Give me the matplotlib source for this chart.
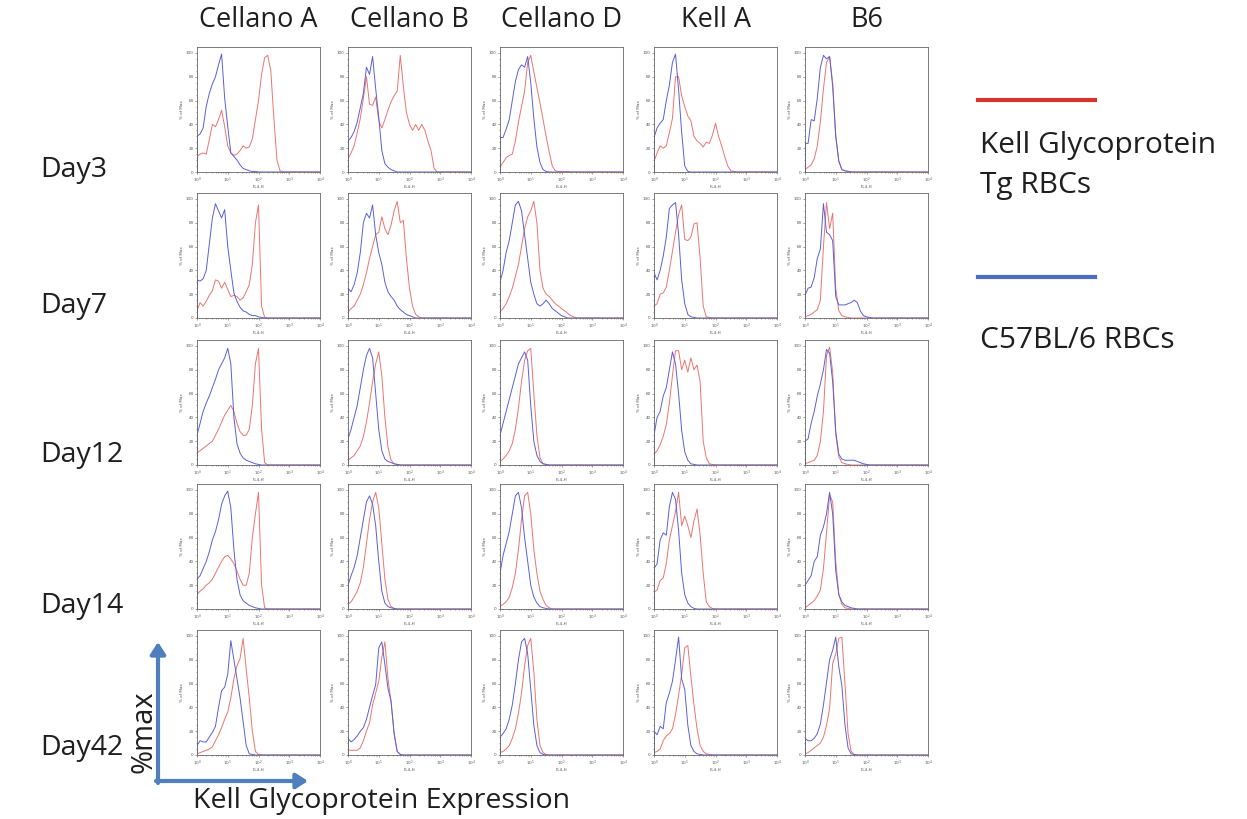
import numpy as np
import matplotlib
matplotlib.use('Agg')
import matplotlib.pyplot as plt
from matplotlib.ticker import FixedLocator, NullFormatter

strains = ['Cellano A', 'Cellano B', 'Cellano D', 'Kell A', 'B6']
days = ['Day3', 'Day7', 'Day12', 'Day14', 'Day42']

# log10(FL4-H) bin centres, 0.1 decade apart
log_fl = np.arange(0, 4.01, 0.1)

# % of max per bin, one list per day (Day3, Day7, Day12, Day14, Day42)
tg_cellano_a = [
    [13, 15, 16, 15, 27, 40, 38, 44, 52, 38, 22, 16, 14, 15, 18, 22, 20, 21, 28, 44, 60, 82, 96, 98, 85, 45, 10, 1],
    [6, 13, 10, 14, 19, 23, 32, 31, 25, 30, 24, 18, 19, 18, 15, 17, 22, 28, 45, 80, 95, 10, 0.5],
    [10, 12, 14, 16, 18, 20, 25, 30, 36, 42, 46, 50, 45, 35, 28, 25, 25, 30, 50, 85, 98, 30, 2],
    [12, 15, 17, 20, 22, 25, 30, 35, 40, 44, 45, 42, 38, 32, 25, 20, 20, 30, 60, 80, 98, 20, 1],
    [1, 2, 3, 4, 5, 7, 12, 17, 23, 30, 36, 48, 64, 75, 81, 98, 72, 48, 20, 3, 0.5],
]
b6_cellano_a = [
    [30, 32, 37, 55, 66, 74, 80, 90, 99, 62, 38, 16, 13, 10, 6, 3, 2, 1, 0.5, 0.5],
    [32, 31, 33, 40, 62, 84, 96, 90, 84, 91, 60, 40, 21, 14, 9, 6, 5, 3, 2, 2, 1, 0.5],
    [25, 35, 45, 52, 58, 65, 72, 80, 85, 90, 98, 85, 40, 18, 10, 6, 4, 3, 2, 1, 0.5],
    [25, 28, 34, 40, 48, 58, 65, 75, 88, 95, 99, 85, 50, 25, 12, 7, 5, 3, 2, 1, 0.5],
    [8, 12, 11, 11, 15, 19, 24, 40, 54, 57, 68, 96, 80, 64, 48, 28, 8, 1, 0.5],
]
tg_cellano_b = [
    [11, 16, 22, 33, 45, 62, 80, 57, 56, 63, 43, 37, 44, 52, 59, 64, 68, 98, 72, 50, 40, 35, 40, 35, 40, 35, 26, 18, 3],
    [5, 8, 10, 15, 20, 28, 38, 50, 60, 70, 72, 85, 75, 70, 78, 90, 98, 80, 82, 50, 25, 10, 3, 1],
    [4, 6, 8, 12, 16, 24, 36, 52, 70, 85, 95, 75, 40, 15, 4, 1, 0.5],
    [4, 6, 10, 15, 22, 35, 55, 75, 90, 98, 85, 55, 25, 8, 2, 0.5],
    [4, 4, 4, 4, 6, 12, 20, 27, 42, 52, 62, 82, 95, 64, 45, 18, 3, 0.5],
]
b6_cellano_b = [
    [26, 29, 34, 42, 54, 66, 88, 82, 97, 70, 46, 18, 7, 4, 2, 1],
    [25, 22, 28, 38, 55, 80, 88, 84, 95, 70, 55, 45, 30, 22, 18, 15, 10, 7, 5, 3, 2, 1],
    [22, 30, 40, 50, 65, 80, 92, 98, 90, 60, 30, 12, 5, 3, 2, 1, 0.5],
    [20, 28, 35, 45, 60, 75, 90, 95, 88, 70, 40, 15, 5, 2, 1, 0.5],
    [14, 11, 13, 16, 20, 23, 30, 40, 50, 59, 90, 95, 76, 56, 45, 18, 3, 0.5],
]
tg_cellano_d = [
    [4, 8, 12, 14, 15, 26, 42, 55, 68, 92, 98, 84, 71, 58, 44, 30, 17, 5, 1, 0.5, 0.5, 0.5, 0.5],
    [5, 8, 12, 18, 25, 35, 45, 60, 75, 85, 90, 98, 80, 40, 25, 20, 18, 15, 12, 10, 8, 6, 4, 2, 1],
    [3, 5, 8, 12, 18, 30, 48, 70, 88, 96, 98, 60, 25, 6, 1, 0.5],
    [2, 4, 6, 10, 18, 30, 50, 75, 95, 98, 80, 50, 30, 15, 8, 3, 1],
    [2, 3, 5, 8, 14, 22, 35, 52, 75, 92, 98, 70, 30, 8, 2, 0.5],
]
b6_cellano_d = [
    [29, 29, 36, 44, 60, 76, 86, 90, 88, 97, 75, 45, 21, 8, 2, 0.5],
    [30, 40, 55, 65, 80, 95, 98, 90, 70, 50, 30, 20, 12, 10, 12, 15, 12, 8, 6, 4, 2, 1],
    [25, 35, 45, 55, 65, 75, 85, 90, 95, 88, 50, 20, 8, 3, 1, 0.5],
    [30, 45, 55, 65, 80, 95, 98, 85, 60, 40, 20, 10, 5, 2, 1, 0.5],
    [15, 18, 22, 30, 42, 60, 80, 95, 98, 85, 55, 25, 8, 2, 0.5],
]
tg_kell_a = [
    [9, 16, 22, 20, 22, 33, 45, 80, 80, 64, 55, 47, 43, 30, 26, 24, 21, 25, 24, 31, 41, 30, 22, 13, 5, 1, 0.5],
    [10, 12, 20, 21, 26, 40, 56, 72, 87, 95, 66, 65, 68, 79, 80, 50, 10, 1, 0.5],
    [9, 12, 17, 24, 34, 52, 75, 96, 96, 80, 88, 78, 90, 80, 84, 70, 20, 6, 1, 0.5],
    [14, 16, 24, 26, 38, 58, 70, 82, 98, 70, 78, 70, 60, 74, 84, 62, 30, 6, 2, 0.5],
    [2, 3, 5, 12, 16, 18, 22, 34, 50, 68, 90, 92, 66, 42, 22, 8, 3, 1, 0.5],
]
b6_kell_a = [
    [29, 37, 41, 44, 60, 73, 92, 99, 69, 33, 5, 0.5],
    [38, 32, 40, 52, 68, 92, 95, 97, 70, 32, 12, 3, 1, 0.5],
    [25, 40, 45, 58, 65, 80, 95, 85, 60, 29, 11, 4, 1, 0.5],
    [34, 38, 58, 64, 62, 86, 98, 92, 66, 30, 12, 5, 2, 0.5],
    [20, 17, 24, 22, 44, 52, 62, 80, 99, 64, 55, 25, 8, 3, 1, 0.5],
]
tg_b6 = [
    [2, 4, 6, 11, 22, 42, 70, 92, 97, 75, 30, 9, 2, 1, 0.5],
    [1, 2, 3, 5, 7, 15, 60, 97, 75, 88, 25, 6, 2, 1, 0.5],
    [1, 2, 3, 4, 8, 20, 45, 92, 99, 78, 25, 7, 2, 1, 0.5],
    [1, 3, 5, 7, 11, 16, 34, 64, 96, 90, 40, 12, 4, 1, 0.5],
    [1, 2, 4, 6, 8, 10, 15, 25, 39, 77, 85, 98, 99, 60, 18, 3, 0.5],
]
b6_b6 = [
    [24, 24, 44, 43, 62, 88, 98, 95, 97, 72, 30, 9, 2, 1, 0.5],
    [19, 25, 26, 34, 50, 58, 96, 72, 70, 65, 18, 11, 11, 11, 12, 13, 15, 13, 6, 2, 1, 0.5],
    [20, 22, 35, 45, 58, 68, 80, 97, 94, 70, 28, 9, 5, 4, 4, 4, 4, 3, 2, 1, 0.5],
    [20, 24, 28, 40, 44, 62, 69, 80, 98, 80, 32, 12, 6, 3, 2, 1, 0.5],
    [14, 12, 12, 14, 18, 26, 42, 61, 80, 88, 99, 74, 58, 25, 6, 1, 0.5],
]

tg_all = [tg_cellano_a, tg_cellano_b, tg_cellano_d, tg_kell_a, tg_b6]
b6_all = [b6_cellano_a, b6_cellano_b, b6_cellano_d, b6_kell_a, b6_b6]

RED = '#ea7570'
BLUE = '#5a5fd8'
ARROW = '#4f7fbf'
FONT = 'Open Sans'
INK = '#1f1f1f'


def pad(vals):
    out = np.zeros(len(log_fl))
    out[:len(vals)] = vals
    return out


fig = plt.figure(figsize=(12.47, 8.19), dpi=100)
W, H = 1247, 819

col_left = [197, 348, 500, 654, 805]
row_top = [47, 193, 340, 484, 630]
pw, ph = 123, 125

for c in range(5):
    for r in range(5):
        ax = fig.add_axes([col_left[c] / W, 1 - (row_top[r] + ph) / H, pw / W, ph / H])
        x = 10 ** log_fl
        ax.plot(x, pad(tg_all[c][r]), color=RED, lw=0.7)
        ax.plot(x, pad(b6_all[c][r]), color=BLUE, lw=0.7)
        ax.vlines(1, 0, b6_all[c][r][0], color=BLUE, lw=1.2)
        ax.set_xscale('log')
        ax.set_xlim(1, 1e4)
        ax.set_ylim(0, 105)
        ax.set_yticks([0, 20, 40, 60, 80, 100])
        ax.yaxis.set_minor_locator(FixedLocator(np.arange(0, 101, 5)))
        ax.xaxis.set_major_locator(FixedLocator([1, 10, 100, 1000, 10000]))
        ax.set_xticklabels([r'$10^0$', r'$10^1$', r'$10^2$', r'$10^3$', r'$10^4$'])
        ax.xaxis.set_minor_formatter(NullFormatter())
        ax.tick_params(which='both', labelsize=3, colors='#555555', length=1.5, width=0.4, pad=1)
        ax.tick_params(which='minor', length=0.8)
        for s in ax.spines.values():
            s.set_color('#666666')
            s.set_linewidth(0.6)
        ax.set_ylabel('% of Max', fontsize=3, color='#555555', labelpad=1)
        ax.set_xlabel('FL4-H', fontsize=3, color='#555555', labelpad=0.5)

# column headers
for c, name in enumerate(strains):
    fig.text((col_left[c] + pw / 2) / W, 1 - 20 / H, name, ha='center', va='center',
             fontsize=19.5, family=FONT, color=INK)

# row labels
row_y = [170, 306, 455, 606, 748]
for r, name in enumerate(days):
    fig.text(40 / W, 1 - row_y[r] / H, name, ha='left', va='center',
             fontsize=20.5, family=FONT, color=INK)

# legend
fig.add_artist(plt.Line2D([978 / W, 1095 / W], [1 - 100 / H] * 2, color='#d9332e', lw=3))
fig.add_artist(plt.Line2D([978 / W, 1095 / W], [1 - 277 / H] * 2, color='#4a6fc2', lw=3))
fig.text(980 / W, 1 - 145 / H, 'Kell Glycoprotein', ha='left', va='center',
         fontsize=21.5, family=FONT, color=INK)
fig.text(980 / W, 1 - 186 / H, 'Tg RBCs', ha='left', va='center',
         fontsize=21.5, family=FONT, color=INK)
fig.text(980 / W, 1 - 340 / H, 'C57BL/6 RBCs', ha='left', va='center',
         fontsize=21.5, family=FONT, color=INK)

# axis arrows
fig.add_artist(matplotlib.patches.FancyArrowPatch((158 / W, 1 - 783 / H), (158 / W, 1 - 642 / H),
               transform=fig.transFigure, arrowstyle='-|>,head_length=7,head_width=4.5',
               color=ARROW, lw=3, shrinkA=0, shrinkB=0))
fig.add_artist(matplotlib.patches.FancyArrowPatch((156 / W, 1 - 781 / H), (308 / W, 1 - 781 / H),
               transform=fig.transFigure, arrowstyle='-|>,head_length=7,head_width=4.5',
               color=ARROW, lw=3, shrinkA=0, shrinkB=0))
fig.text(144 / W, 1 - 732 / H, '%max', rotation=90, ha='center', va='center',
         fontsize=21, family=FONT, color=INK)
fig.text(193 / W, 1 - 801 / H, 'Kell Glycoprotein Expression', ha='left', va='center',
         fontsize=20.5, family=FONT, color=INK)

fig.savefig('out.png', dpi=100, facecolor='white')
